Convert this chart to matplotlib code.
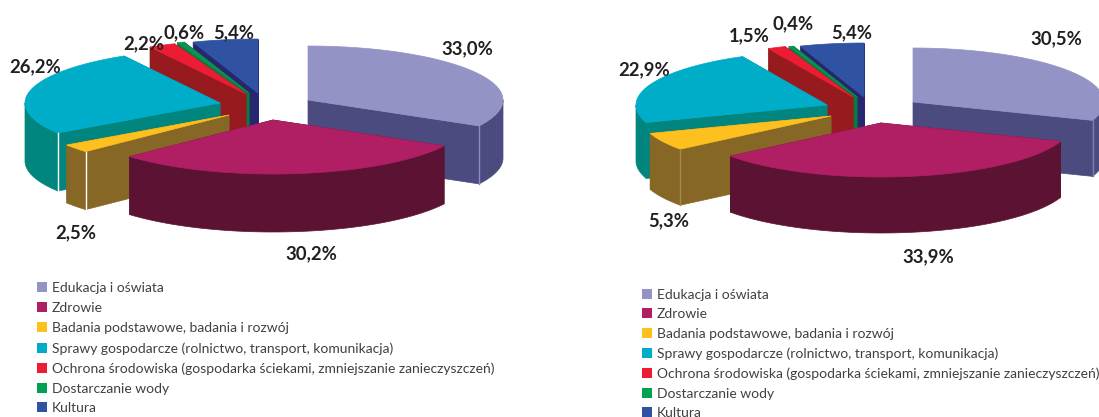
import numpy as np
import matplotlib.pyplot as plt
from matplotlib.patches import Rectangle

categories = [
    "Edukacja i oświata",
    "Zdrowie",
    "Badania podstawowe, badania i rozwój",
    "Sprawy gospodarcze (rolnictwo, transport, komunikacja)",
    "Ochrona środowiska (gospodarka ściekami, zmniejszanie zanieczyszczeń)",
    "Dostarczanie wody",
    "Kultura",
]
left_values = [33.0, 30.2, 2.5, 26.2, 2.2, 0.6, 5.4]
right_values = [30.5, 33.9, 5.3, 22.9, 1.5, 0.4, 5.4]

top_colors = ["#9393c6", "#b01e64", "#fdc01e", "#00adc9", "#ed1c35", "#0b9150", "#3052a3"]
side_colors = ["#4b4b7f", "#5c1333", "#876726", "#00867f", "#961a1e", "#0a7a3e", "#26276f"]
legend_colors = ["#9393c6", "#b01e64", "#fdc01e", "#00adc9", "#ed1c35", "#00a151", "#3052a3"]

# back to front
draw_order = [6, 5, 4, 3, 2, 0, 1]

# apex of each exploded slice, in image pixels
left_apex = [(308, 100), (273, 120), (229, 115), (220, 103), (246, 94), (249, 93), (258, 93)]
right_apex = [(913, 102), (881, 123), (831, 116), (827, 105), (853, 97), (857, 97), (864, 97)]

left_labels = [(467, 49), (311, 254), (76, 233), (35, 67), (144, 44), (184, 33), (234, 33)]
right_labels = [(1056, 39), (928, 257), (669, 221), (644, 70), (749, 36), (793, 24), (852, 33)]

left_rows = [287, 307, 327, 348, 368, 388, 407]
right_rows = [294, 313, 333, 353, 373, 393, 412]

plt.rcParams["font.family"] = ["Lato", "DejaVu Sans"]

fig = plt.figure(figsize=(10.99, 4.17), dpi=100)
ax = fig.add_axes([0, 0, 1, 1])
ax.set_xlim(0, 1099)
ax.set_ylim(417, 0)
ax.axis("off")


def rim(cx, cy, rx, ry, a):
    return cx + rx * np.sin(a), cy - ry * np.cos(a)


def draw_pie(values, apexes, rx, ry, depth, edge_lines):
    ends = np.cumsum(values) / sum(values) * 2 * np.pi
    starts = ends - np.array(values) / sum(values) * 2 * np.pi
    for i in draw_order:
        cx, cy = apexes[i]
        a0, a1 = starts[i], ends[i]
        for a in (a0, a1):
            x, y = rim(cx, cy, rx, ry, a)
            ax.fill([cx, x, x, cx], [cy, y, y + depth, cy + depth],
                    color=side_colors[i], lw=0.5)
        # outer wall, only the part that faces the viewer
        b0, b1 = max(a0, np.pi / 2), min(a1, 3 * np.pi / 2)
        if b1 > b0:
            t = np.linspace(b0, b1, 80)
            x, y = rim(cx, cy, rx, ry, t)
            ax.fill(np.r_[x, x[::-1]], np.r_[y, y[::-1] + depth],
                    color=side_colors[i], lw=0.5)
        if i in edge_lines:
            x, y = rim(cx, cy, rx, ry, a0 if i > 1 else a1)
            ax.plot([x, x], [y, y + depth], color=edge_lines[i], lw=1.0)
        t = np.linspace(a0, a1, 120)
        x, y = rim(cx, cy, rx, ry, t)
        ax.fill(np.r_[cx, x], np.r_[cy, y], color=top_colors[i], lw=0.5)


def draw_labels(values, positions):
    for v, (x, y) in zip(values, positions):
        ax.text(x, y, f"{v:.1f}%".replace(".", ","), ha="center", va="center",
                fontsize=13.3, fontweight="bold", color="#231f20")


def draw_legend(x, rows):
    for name, color, y in zip(categories, legend_colors, rows):
        ax.add_patch(Rectangle((x, y - 5), 10, 10, color=color, lw=0))
        ax.text(x + 15, y + 1, name, ha="left", va="center", fontsize=10, color="#404040")


draw_pie(left_values, left_apex, 195, 54, 58, {0: "#8d8dbd", 2: "#ffffff", 3: "#ffffff"})
draw_pie(right_values, right_apex, 191, 54, 56, {0: "#7d7db0", 2: "#a08a50"})
draw_labels(left_values, left_labels)
draw_labels(right_values, right_labels)
draw_legend(37, left_rows)
draw_legend(642, right_rows)

fig.savefig("out.png", dpi=100)
